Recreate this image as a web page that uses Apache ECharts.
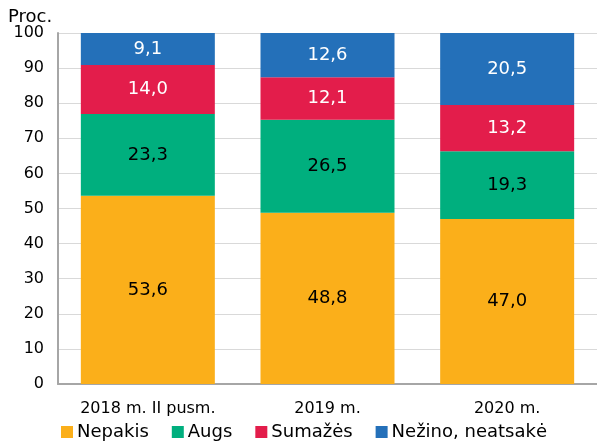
<!DOCTYPE html>
<html>
<head>
<meta charset="utf-8">
<script src="https://cdn.jsdelivr.net/npm/echarts@6/dist/echarts.min.js"></script>
<style>
  html, body { margin: 0; padding: 0; background: #fff; }
  #chart { width: 597px; height: 446px; }
</style>
</head>
<body>
<div id="chart"></div>
<script>
var categories = ['2018 m. II pusm.', '2019 m.', '2020 m.'];
var seriesNames = ['Nepakis', 'Augs', 'Sumažės', 'Nežino, neatsakė'];
var nepakis = [53.6, 48.8, 47.0];
var augs = [23.3, 26.5, 19.3];
var sumazes = [14.0, 12.1, 13.2];
var nezino = [9.1, 12.6, 20.5];
var yTicks = [0, 100, 10];

var colors = ['#FBAF1A', '#00AF7E', '#E31D4B', '#2470B9'];
var labelColors = ['#000', '#000', '#fff', '#fff'];
var font = 'Verdana, "DejaVu Sans", sans-serif';

function fmt(v) {
	return v.toFixed(1).replace('.', ',');
}

var allData = [nepakis, augs, sumazes, nezino];
var series = allData.map(function (d, i) {
	return {
		name: seriesNames[i],
		type: 'bar',
		stack: 'total',
		barWidth: 134,
		data: d,
		itemStyle: { color: colors[i] },
		label: {
			show: true,
			position: 'inside',
			color: labelColors[i],
			fontFamily: font,
			fontSize: 18,
			formatter: function (p) { return fmt(p.value); }
		}
	};
});

var chart = echarts.init(document.getElementById('chart'));
chart.setOption({
	animation: false,
	grid: { left: 58, right: -3, top: 33, bottom: 62 },
	graphic: [{
		type: 'text',
		left: 8,
		top: 8,
		style: { text: 'Proc.', font: '18px ' + font, fill: '#000' }
	}],
	legend: {
		top: 423,
		left: 61,
		padding: 0,
		itemWidth: 12,
		itemHeight: 12,
		itemGap: 23,
		icon: 'rect',
		textStyle: { fontFamily: font, fontSize: 18, color: '#000', padding: [0, 0, 0, -1] },
		data: seriesNames
	},
	xAxis: {
		type: 'category',
		data: categories,
		axisLine: { lineStyle: { color: '#a6a6a6', width: 2 } },
		axisTick: { show: false },
		axisLabel: { fontFamily: font, fontSize: 16, color: '#000', margin: 17 }
	},
	yAxis: {
		type: 'value',
		min: yTicks[0],
		max: yTicks[1],
		interval: yTicks[2],
		axisLine: { show: true, lineStyle: { color: '#a6a6a6', width: 2 } },
		axisTick: { show: false },
		splitLine: { lineStyle: { color: '#d9d9d9', width: 1 } },
		axisLabel: { fontFamily: font, fontSize: 16, color: '#000', margin: 14 }
	},
	series: series
});
</script>
</body>
</html>
